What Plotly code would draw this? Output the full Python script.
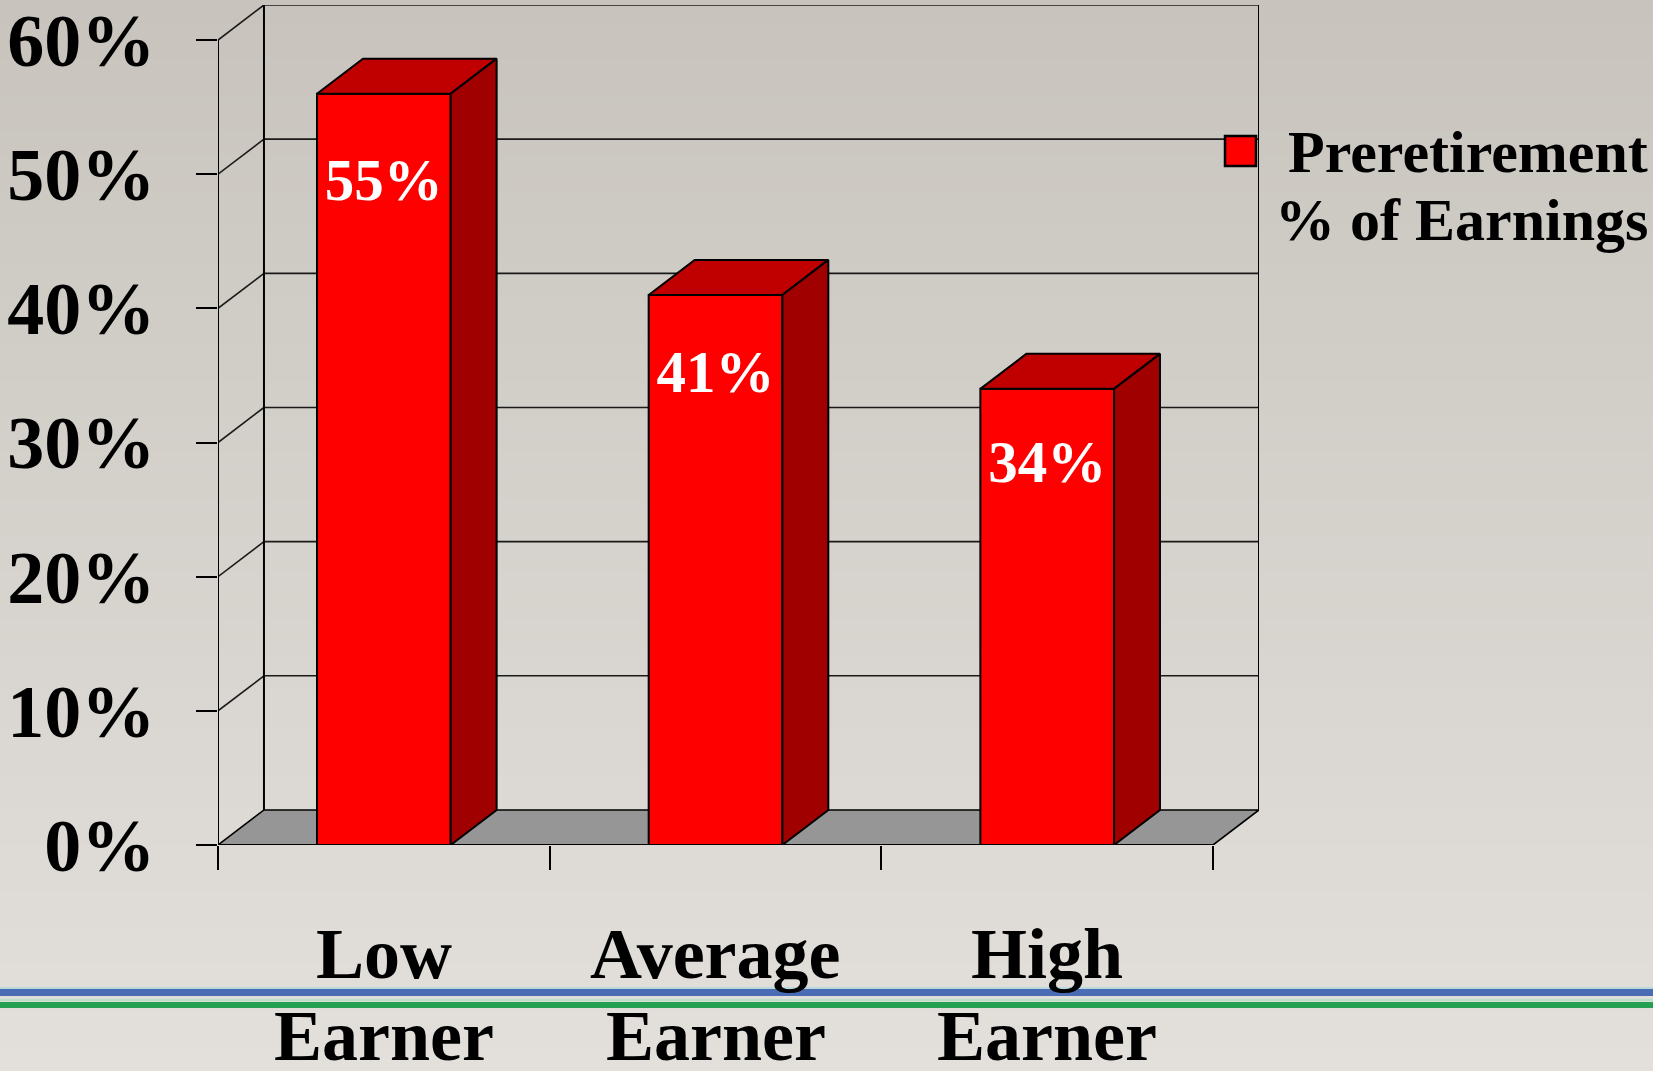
import plotly.graph_objects as go

# ---------------- data ----------------
categories = ["Low Earner", "Average Earner", "High Earner"]
label_line1 = ["Low", "Average", "High"]
label_line2 = ["Earner", "Earner", "Earner"]
values = [56, 41, 34]                      # % of preretirement earnings (bar heights)
value_labels = ["55%", "41%", "34%"]
y_ticks = [0, 10, 20, 30, 40, 50, 60]
y_tick_text = ["0%", "10%", "20%", "30%", "40%", "50%", "60%"]
series_name = ["Preretirement", "% of Earnings"]

# ---------------- geometry / style ----------------
W, H = 1653, 1071
ML, MR, MT, MB = 218, 394, 5, 226
PW, PH = W - ML - MR, H - MT - MB
X0, X1 = -0.5, len(categories) - 0.5     # front floor edge
DX, DY = 0.1386, 2.61                     # 3-D depth offset (data units)
YMAX = 60
BW = 0.403
FONT = "Liberation Serif"
RED, TOP, SIDE = "#ff0000", "#c00000", "#a00000"
centers = list(range(len(categories)))


def px(x):
    return (x - ML) / PW


def py(y):
    return (H - MB - y) / PH


def lerp(c1, c2, t):
    a = [int(c1[i:i + 2], 16) for i in (1, 3, 5)]
    b = [int(c2[i:i + 2], 16) for i in (1, 3, 5)]
    return "#%02x%02x%02x" % tuple(round(a[k] + (b[k] - a[k]) * t) for k in range(3))


shapes = []
# background gradient
NB = 90
for i in range(NB):
    y0 = H * i / NB
    y1 = H * (i + 1) / NB + 1
    shapes.append(dict(type="rect", xref="paper", yref="paper", layer="below",
                       x0=px(-2), x1=px(W + 2), y0=py(y1), y1=py(y0), line=dict(width=0),
                       fillcolor=lerp("#c8c4bd", "#e3e0dc", i / (NB - 1))))

LINE = dict(color="#000000", width=2)
GRID = dict(color="#1a1a1a", width=1.6)

# floor
shapes.append(dict(type="path", layer="below", xref="x", yref="y",
                   path=f"M{X0},0 L{X1},0 L{X1 + DX},{DY} L{X0 + DX},{DY} Z",
                   fillcolor="#969696", line=dict(color="#000000", width=1.6)))
# gridlines on back wall and side wall
for v in y_ticks[1:]:
    shapes.append(dict(type="line", layer="below", xref="x", yref="y",
                       x0=X0 + DX, x1=X1 + DX, y0=v + DY, y1=v + DY, line=GRID))
    shapes.append(dict(type="line", layer="below", xref="x", yref="y",
                       x0=X0, x1=X0 + DX, y0=v, y1=v + DY, line=GRID))
# wall edges
for xx in (X0 + DX, X1 + DX):
    shapes.append(dict(type="line", layer="below", xref="x", yref="y",
                       x0=xx, x1=xx, y0=DY, y1=YMAX + DY, line=LINE))
# front axes
shapes.append(dict(type="line", layer="below", xref="x", yref="y",
                   x0=X0, x1=X0, y0=0, y1=YMAX, line=LINE))
shapes.append(dict(type="line", layer="below", xref="x", yref="y",
                   x0=X0, x1=X1, y0=0, y1=0, line=LINE))

# legend key
shapes.append(dict(type="rect", xref="paper", yref="paper",
                   x0=px(1225), x1=px(1256), y0=py(166), y1=py(136),
                   fillcolor=RED, line=dict(color="#000000", width=2.5)))

# bottom decorative rules
shapes.append(dict(type="line", xref="paper", yref="paper", x0=px(-2), x1=px(W + 2),
                   y0=py(988), y1=py(988), line=dict(color="#b9d9dc", width=2)))
shapes.append(dict(type="line", xref="paper", yref="paper", x0=px(-2), x1=px(W + 2),
                   y0=py(992.5), y1=py(992.5), line=dict(color="#4a6cb5", width=7)))
shapes.append(dict(type="line", xref="paper", yref="paper", x0=px(-2), x1=px(W + 2),
                   y0=py(1000), y1=py(1000), line=dict(color="#b8e0c8", width=2)))
shapes.append(dict(type="line", xref="paper", yref="paper", x0=px(-2), x1=px(W + 2),
                   y0=py(1005), y1=py(1005), line=dict(color="#23a052", width=6)))

fig = go.Figure()

# front faces
fig.add_trace(go.Bar(x=centers, y=values, width=BW, marker=dict(color=RED, line=LINE),
                     showlegend=False, hoverinfo="skip"))

# top and side faces
for c, v in zip(centers, values):
    l, r = c - BW / 2, c + BW / 2
    fig.add_trace(go.Scatter(x=[l, r, r + DX, l + DX, l], y=[v, v, v + DY, v + DY, v],
                             fill="toself", fillcolor=TOP, mode="lines", line=LINE,
                             showlegend=False, hoverinfo="skip"))
    fig.add_trace(go.Scatter(x=[r, r + DX, r + DX, r, r], y=[0, DY, v + DY, v, 0],
                             fill="toself", fillcolor=SIDE, mode="lines", line=LINE,
                             showlegend=False, hoverinfo="skip"))

# value labels (placed inside the top of each bar)
fig.add_trace(go.Scatter(x=centers, y=[0.956 * v - 4.35 for v in values], text=value_labels,
                         mode="text", textposition="middle center",
                         textfont=dict(family=FONT, size=59, color="#ffffff", weight="bold"),
                         showlegend=False, hoverinfo="skip"))

annotations = []
for c, t1, t2 in zip(centers, label_line1, label_line2):
    annotations.append(dict(x=c, xref="x", y=py(954), yref="paper", text=t1, showarrow=False,
                            xanchor="center", yanchor="middle",
                            font=dict(family=FONT, size=72, color="#000000", weight="bold")))
    annotations.append(dict(x=c, xref="x", y=py(1036), yref="paper", text=t2, showarrow=False,
                            xanchor="center", yanchor="middle",
                            font=dict(family=FONT, size=72, color="#000000", weight="bold")))
for i, t in enumerate(series_name):
    annotations.append(dict(x=px(1650), xref="paper", y=py(152 + 68 * i), yref="paper", text=t,
                            showarrow=False, xanchor="right", yanchor="middle",
                            font=dict(family=FONT, size=60, color="#000000", weight="bold")))

fig.update_layout(
    width=W, height=H,
    margin=dict(l=ML, r=MR, t=MT, b=MB, pad=0, autoexpand=False),
    paper_bgcolor="#d6d3ce", plot_bgcolor="rgba(0,0,0,0)",
    showlegend=False, shapes=shapes, annotations=annotations,
    xaxis=dict(range=[X0, X1 + DX], showgrid=False, zeroline=False, showline=False,
               tickvals=[X0 + k for k in range(len(categories) + 1)], ticks="outside",
               ticklen=24, tickwidth=2, tickcolor="#000000", showticklabels=False,
               fixedrange=True, automargin=False),
    yaxis=dict(range=[0, YMAX + DY], showgrid=False, zeroline=False, showline=False,
               tickvals=y_ticks, ticktext=y_tick_text, ticks="outside", ticklen=21,
               tickwidth=2, tickcolor="#000000", ticklabelstandoff=26,
               ticklabeloverflow="allow",
               tickfont=dict(family=FONT, size=74, color="#000000", weight="bold"),
               fixedrange=True, automargin=False),
)

fig.write_html("out.html")
